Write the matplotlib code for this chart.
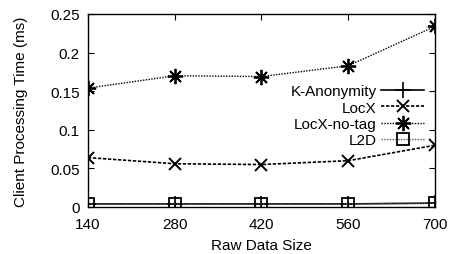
import matplotlib
matplotlib.use("Agg")
import matplotlib.pyplot as plt

plt.rcParams['font.family'] = ['Liberation Sans', 'DejaVu Sans']

sizes = [140, 280, 420, 560, 700]
k_anon = [0.004, 0.004, 0.004, 0.004, 0.005]
locx = [0.064, 0.056, 0.055, 0.060, 0.080]
locx_notag = [0.154, 0.170, 0.169, 0.183, 0.234]
l2d = [0.004, 0.004, 0.004, 0.004, 0.005]

fig = plt.figure(figsize=(4.52, 2.55), dpi=100)
ax = fig.add_axes([88 / 452, 1 - 208 / 255, (435 - 88) / 452, (208 - 15) / 255])

ax.plot(sizes, k_anon, color='black', linestyle='-', linewidth=1.2, marker='+', markersize=11, markeredgewidth=1.2, label='K-Anonymity')
ax.plot(sizes, locx, color='black', linestyle=(0, (2, 1)), linewidth=1.2, marker='x', markersize=9, markeredgewidth=1.4, label='LocX')
ax.plot(sizes, locx_notag, color='black', linestyle=(0, (1, 1)), linewidth=1.0, marker=(8, 2, 0), markersize=11, markeredgewidth=1.3, label='LocX-no-tag')
ax.plot(sizes, l2d, color='#555555', linestyle=(0, (1, 1)), linewidth=1.0, marker='s', markersize=9, markerfacecolor='none', markeredgecolor='black', markeredgewidth=1.3, label='L2D')

ax.set_xlim(140, 700)
ax.set_ylim(0, 0.25)
ax.set_xticks(sizes)
ax.set_yticks([0, 0.05, 0.1, 0.15, 0.2, 0.25])
ax.set_yticklabels(['0', '0.05', '0.1', '0.15', '0.2', '0.25'])
ax.tick_params(direction='in', top=True, right=True, labelsize=11, length=4)
ax.tick_params(axis='x', pad=7)
ax.tick_params(axis='y', pad=6)
for s in ax.spines.values():
    s.set_linewidth(1.0)

ax.set_xlabel('Raw Data Size', fontsize=11, labelpad=5)
ax.set_ylabel('Client Processing Time (ms)', fontsize=11, labelpad=16)

leg = ax.legend(loc='upper right', bbox_to_anchor=(0.99, 0.675), frameon=False, markerfirst=False,
                fontsize=11, handlelength=2.8, handletextpad=0.3, labelspacing=0.15, borderpad=0)

fig.savefig('out.png', dpi=100)
